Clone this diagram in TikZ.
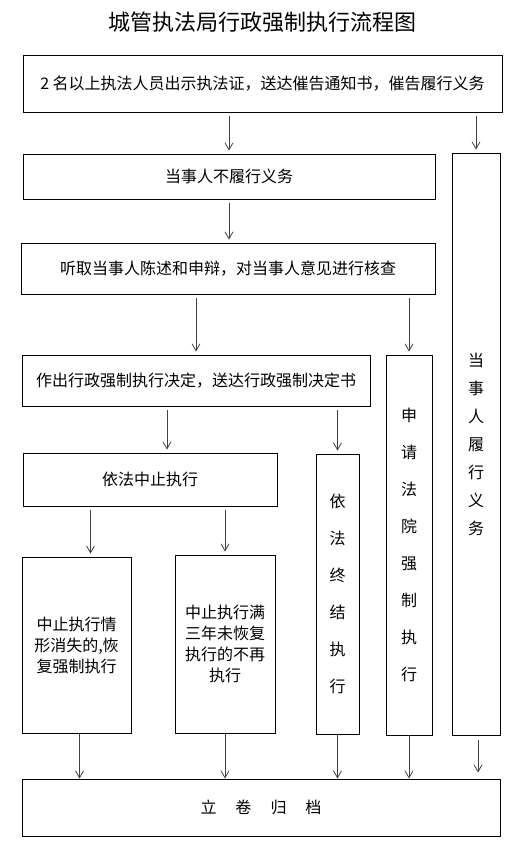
\documentclass[tikz,border=0pt]{standalone}
\usepackage{fontspec}
\setmainfont{Noto Sans CJK SC}
\usepackage{tikz}
\usetikzlibrary{arrows.meta}

\begin{document}
\begin{tikzpicture}[
    x=1pt, y=-1pt,
    box/.style={rectangle, draw=black, line width=0.8pt, inner sep=0pt,
                align=center, font=\fontsize{16pt}{21pt}\selectfont},
    vbox/.style={box, font=\fontsize{16pt}{#1}\selectfont},
    arr/.style={-{Straight Barb[length=7pt, width=8pt]}, line width=0.8pt, black!75,
                shorten <=4pt, shorten >=3pt}
]
    \useasboundingbox (0,0) rectangle (531,850);

    \node[font=\fontsize{22pt}{26pt}\selectfont] (title) at (262, 22) {城管执法局行政强制执行流程图};

    \node[box, minimum width=479pt, minimum height=57pt] (notice) at (262.5, 83.5)
        {2 名以上执法人员出示执法证，送达催告通知书，催告履行义务};
    \node[box, minimum width=412pt, minimum height=45pt] (refuse) at (229, 176.5) {当事人不履行义务};
    \node[box, minimum width=414pt, minimum height=51pt] (hear) at (228, 268.5)
        {听取当事人陈述和申辩，对当事人意见进行核查};
    \node[box, minimum width=348pt, minimum height=51pt] (decide) at (196, 380.5)
        {作出行政强制执行决定，送达行政强制决定书};
    \node[box, minimum width=254pt, minimum height=53pt] (suspend) at (150, 479.5) {依法中止执行};
    \node[box, minimum width=109pt, minimum height=176pt] (resume) at (76.5, 645)
        {中止执行情\\形消失的,恢\\复强制执行};
    \node[box, minimum width=100pt, minimum height=178pt] (stop) at (225, 644)
        {中止执行满\\三年未恢复\\执行的不再\\执行};
    \node[vbox=37pt, minimum width=43pt, minimum height=280pt] (terminate) at (337.5, 594)
        {依\\法\\终\\结\\执\\行};
    \node[vbox=37pt, minimum width=46pt, minimum height=380pt] (court) at (409, 545)
        {申\\请\\法\\院\\强\\制\\执\\行};
    \node[vbox=28pt, minimum width=48pt, minimum height=582pt] (comply) at (476, 444)
        {当\\事\\人\\履\\行\\义\\务};
    \node[box, minimum width=478pt, minimum height=57pt] (archive) at (261, 807.5)
        {立\hspace{19pt}卷\hspace{19pt}归\hspace{19pt}档};

    % arrows
    \draw[arr] (notice.south -| refuse.north) -- (refuse.north);
    \draw[arr] (notice.south -| comply.north) -- (comply.north);
    \draw[arr] (refuse.south) -- (refuse.south |- hear.north);
    \draw[arr] (hear.south -| decide.north) -- (decide.north);
    \draw[arr] (hear.south -| court.north) -- (court.north);
    \draw[arr] ([xshift=17pt]suspend.north |- decide.south) -- ([xshift=17pt]suspend.north);
    \draw[arr] (decide.south -| terminate.north) -- (terminate.north);
    \draw[arr] ([xshift=14pt]resume.north |- suspend.south) -- ([xshift=14pt]resume.north);
    \draw[arr] (suspend.south -| stop.north) -- (stop.north);

    \draw[arr, shorten <=0pt, shorten >=0pt] ([xshift=3pt]resume.south) -- ([xshift=3pt]resume.south |- archive.north);
    \draw[arr, shorten <=0pt, shorten >=0pt] (stop.south) -- (stop.south |- archive.north);
    \draw[arr, shorten <=0pt, shorten >=0pt] (terminate.south) -- (terminate.south |- archive.north);
    \draw[arr, shorten <=0pt, shorten >=0pt] (court.south) -- (court.south |- archive.north);
    \draw[arr, shorten <=5pt, shorten >=6pt] ([xshift=2pt]comply.south) -- ([xshift=2pt]comply.south |- archive.north);
\end{tikzpicture}
\end{document}
